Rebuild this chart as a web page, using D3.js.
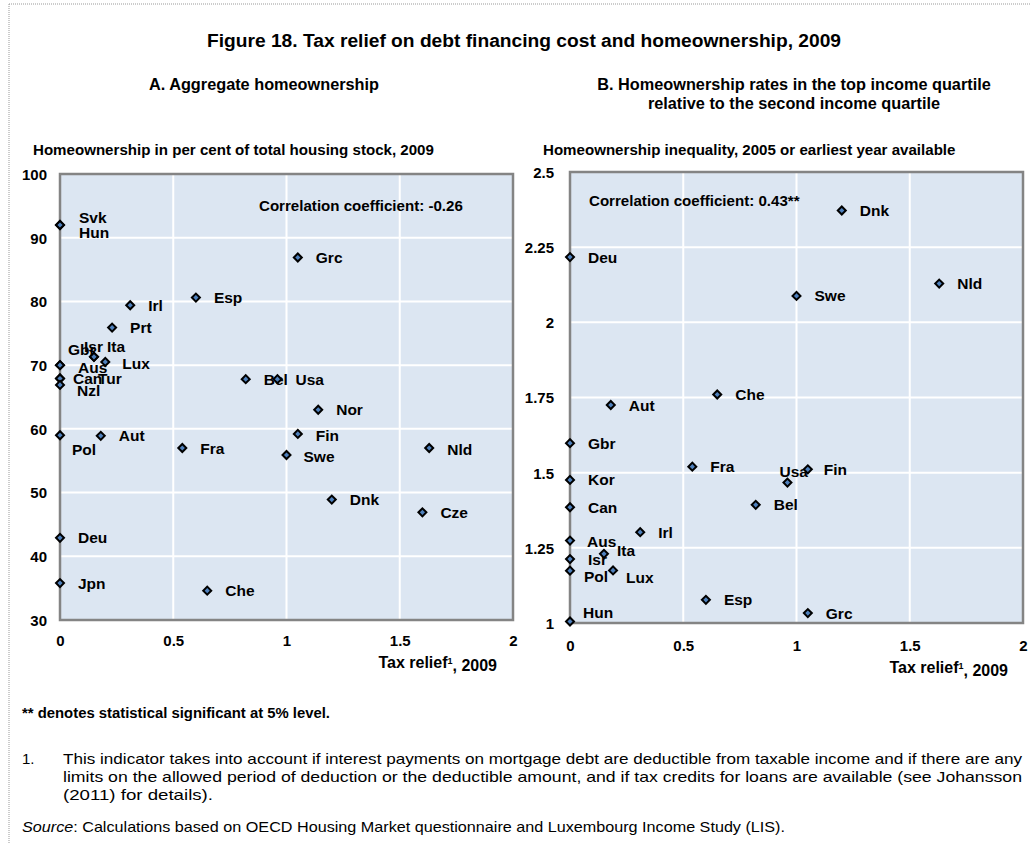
<!DOCTYPE html>
<html>
<head>
<meta charset="utf-8">
<script src="https://cdn.jsdelivr.net/npm/d3@7"></script>
<style>
  html, body { margin: 0; padding: 0; background: #fff; }
  svg { display: block; }
  text { font-family: "Liberation Sans", Arial, sans-serif; fill: #000; }
</style>
</head>
<body>
<svg id="chart" width="1030" height="844"></svg>
<script>
// Panel A: tax relief (x) vs homeownership share, 2009 (y)
const countriesA = ["Svk","Hun","Irl","Esp","Prt","Gbr","Isr","Ita","Lux","Aus","Can","Tur","Nzl",
  "Bel","Usa","Grc","Nor","Fin","Swe","Nld","Pol","Aut","Fra","Dnk","Cze","Deu","Jpn","Che"];
const taxReliefA = [0,0,0.31,0.60,0.23,0,0.15,0.15,0.20,0,0,0,0,
  0.82,0.96,1.05,1.14,1.05,1.00,1.63,0,0.18,0.54,1.20,1.60,0,0,0.65];
const ownershipA = [92.0,92.0,79.4,80.6,75.9,70.0,71.3,71.3,70.5,70.0,67.9,67.9,66.9,
  67.8,67.8,86.9,63.0,59.2,55.9,57.0,59.0,58.9,57.0,48.9,46.9,42.9,35.8,34.6];

// Panel B: tax relief (x) vs homeownership inequality (y)
const countriesB = ["Dnk","Deu","Nld","Swe","Che","Aut","Gbr","Fra","Fin","Usa","Kor","Bel","Can",
  "Irl","Aus","Ita","Isr","Pol","Lux","Esp","Grc","Hun"];
const taxReliefB = [1.20,0,1.63,1.00,0.65,0.18,0,0.54,1.05,0.96,0,0.82,0,
  0.31,0,0.15,0,0,0.19,0.60,1.05,0];
const inequalityB = [2.372,2.217,2.129,2.088,1.760,1.725,1.598,1.520,1.511,1.467,1.476,1.393,1.385,
  1.302,1.274,1.230,1.2125,1.174,1.175,1.077,1.033,1.005];

// Axis ticks
const xTicks = [0, 0.5, 1, 1.5, 2];
const yTicksA = [30, 40, 50, 60, 70, 80, 90, 100];
const yTicksB = [1, 1.25, 1.5, 1.75, 2, 2.25, 2.5];

// Label placement relative to each marker (dx to text start, dy to text centre)
const labelOffsetA = {Svk:[19,-8], Hun:[19,7], Gbr:[8,-16], Isr:[-10,-10], Ita:[13,-10], Lux:[17,1],
  Aus:[18,2], Can:[13,0], Tur:[38,0], Nzl:[17,6], Pol:[12,14], Fin:[18,1], Swe:[17,1], Nld:[18,1]};
const labelOffsetB = {Usa:[-8,-11], Fin:[16,0], Aus:[17,1], Ita:[13,-3], Pol:[14,6], Lux:[13,7], Hun:[13,-9]};

const svg = d3.select("#chart");

// dotted frame around the figure
svg.append("line").attr("x1", 9).attr("x2", 1030).attr("y1", 4).attr("y2", 4)
  .attr("stroke", "#999").attr("stroke-width", 1).attr("stroke-dasharray", "1,1");
svg.append("line").attr("x1", 9).attr("x2", 9).attr("y1", 4).attr("y2", 844)
  .attr("stroke", "#999").attr("stroke-width", 1).attr("stroke-dasharray", "1,1");

// figure title
svg.append("text").attr("x", 524).attr("y", 47).attr("text-anchor", "middle")
  .style("font-size", "19.2px").style("font-weight", "bold")
  .text("Figure 18. Tax relief on debt financing cost and homeownership, 2009");

const diamond = d3.symbol().type(d3.symbolSquare).size(32);

function panel(cfg) {
  const x = d3.scaleLinear().domain([0, 2]).range([cfg.left, cfg.right]);
  const y = d3.scaleLinear().domain(cfg.yDomain).range([cfg.bottom, cfg.top]);
  const g = svg.append("g");

  g.append("rect").attr("x", cfg.left).attr("y", cfg.top)
    .attr("width", cfg.right - cfg.left).attr("height", cfg.bottom - cfg.top)
    .attr("fill", "#dce6f2");

  // gridlines
  g.selectAll("line.hg").data(cfg.yTicks).join("line").attr("class", "hg")
    .attr("x1", cfg.left).attr("x2", cfg.right)
    .attr("y1", d => y(d)).attr("y2", d => y(d))
    .attr("stroke", "#fff").attr("stroke-width", 2);
  g.selectAll("line.vg").data(xTicks).join("line").attr("class", "vg")
    .attr("x1", d => x(d)).attr("x2", d => x(d))
    .attr("y1", cfg.top).attr("y2", cfg.bottom)
    .attr("stroke", "#fff").attr("stroke-width", 2);

  g.append("rect").attr("x", cfg.left).attr("y", cfg.top)
    .attr("width", cfg.right - cfg.left).attr("height", cfg.bottom - cfg.top)
    .attr("fill", "none").attr("stroke", "#848484").attr("stroke-width", 2.5);

  // axes (tick text only; the frame draws the lines)
  const yAxis = d3.axisLeft(y).tickValues(cfg.yTicks).tickSize(0).tickPadding(0)
    .tickFormat(d => String(d));
  const ya = g.append("g").attr("transform", `translate(${cfg.yLabelX},0)`).call(yAxis);
  ya.select(".domain").remove();
  ya.selectAll("text").style("font-size", "15px").style("font-weight", "bold")
    .style("font-family", "'Liberation Sans', Arial, sans-serif").attr("dy", "0.36em").attr("x", 0);

  const xAxis = d3.axisBottom(x).tickValues(xTicks).tickSize(0).tickPadding(0)
    .tickFormat(d => String(d));
  const xa = g.append("g").attr("transform", `translate(0,${cfg.xLabelY})`).call(xAxis);
  xa.select(".domain").remove();
  xa.selectAll("text").style("font-size", "15px").style("font-weight", "bold")
    .style("font-family", "'Liberation Sans', Arial, sans-serif").attr("dy", "0.36em").attr("y", 0);

  // country labels
  const pts = cfg.names.map((n, i) => ({name: n, vx: cfg.xs[i], vy: cfg.ys[i]}));
  g.selectAll("text.lab").data(pts).join("text").attr("class", "lab")
    .attr("x", d => x(d.vx) + (cfg.offsets[d.name] || [18, 0])[0])
    .attr("y", d => y(d.vy) + (cfg.offsets[d.name] || [18, 0])[1])
    .attr("dy", "0.36em")
    .style("font-size", "15.5px").style("font-weight", "bold")
    .text(d => d.name);

  // markers
  g.selectAll("path.pt").data(pts).join("path").attr("class", "pt")
    .attr("d", diamond)
    .attr("transform", d => `translate(${x(d.vx)},${y(d.vy)}) rotate(45)`)
    .attr("fill", "#4f81bd").attr("stroke", "#000").attr("stroke-width", 2);

  // correlation note
  g.append("text").attr("x", cfg.corrX).attr("y", cfg.corrY).attr("dy", "0.36em")
    .style("font-size", "15.1px").style("font-weight", "bold").text(cfg.corr);

  // panel titles
  cfg.title.forEach((t, i) => {
    g.append("text").attr("x", cfg.titleX).attr("y", 90 + i * 19).attr("text-anchor", "middle")
      .style("font-size", "16.3px").style("font-weight", "bold").text(t);
  });
  g.append("text").attr("x", cfg.subX).attr("y", 155)
    .style("font-size", "15.1px").style("font-weight", "bold").text(cfg.sub);

  // x axis title with footnote marker
  const xt = g.append("text").attr("x", cfg.xTitleX).attr("y", cfg.xTitleY).attr("dy", "0.36em")
    .attr("text-anchor", "end").style("font-size", "16px").style("font-weight", "bold");
  xt.append("tspan").text("Tax relief");
  xt.append("tspan").attr("dy", "-0.45em").style("font-size", "9px").text("1");
  xt.append("tspan").attr("dy", "0.45em").text(cfg.xTitleTail);
}

panel({
  left: 60, right: 513, top: 174, bottom: 620, yDomain: [30, 100], yTicks: yTicksA,
  yLabelX: 47, xLabelY: 641,
  names: countriesA, xs: taxReliefA, ys: ownershipA, offsets: labelOffsetA,
  corr: "Correlation coefficient: -0.26", corrX: 259, corrY: 206,
  title: ["A. Aggregate homeownership"], titleX: 264,
  sub: "Homeownership in per cent of total housing stock, 2009", subX: 33,
  xTitleX: 497, xTitleY: 662, xTitleTail: ",  2009"
});

panel({
  left: 570, right: 1023, top: 172, bottom: 623, yDomain: [1, 2.5], yTicks: yTicksB,
  yLabelX: 554, xLabelY: 646,
  names: countriesB, xs: taxReliefB, ys: inequalityB, offsets: labelOffsetB,
  corr: "Correlation coefficient: 0.43**", corrX: 589, corrY: 201,
  title: ["B. Homeownership rates in the top income quartile", "relative to the second income quartile"], titleX: 794,
  sub: "Homeownership inequality, 2005 or earliest year available", subX: 543,
  xTitleX: 1008, xTitleY: 667, xTitleTail: ", 2009"
});

// notes below the figure
svg.append("text").attr("x", 22).attr("y", 718)
  .style("font-size", "14px").style("font-weight", "bold")
  .attr("textLength", 308).attr("lengthAdjust", "spacingAndGlyphs")
  .text("** denotes statistical significant at 5% level.");

const note = [
  {t: "This indicator takes into account if interest payments on mortgage debt are deductible from taxable income and if there are any", w: 959},
  {t: "limits on the allowed period of deduction or the deductible amount, and if tax credits for loans are available (see Johansson", w: 959},
  {t: "(2011) for details).", w: 150}
];
svg.append("text").attr("x", 22).attr("y", 764).style("font-size", "15px").text("1.");
svg.selectAll("text.note").data(note).join("text").attr("class", "note")
  .attr("x", 63).attr("y", (d, i) => 764 + i * 18)
  .style("font-size", "15px")
  .attr("textLength", d => d.w).attr("lengthAdjust", "spacingAndGlyphs")
  .text(d => d.t);

const src = svg.append("text").attr("x", 22).attr("y", 832).style("font-size", "15px")
  .attr("textLength", 763).attr("lengthAdjust", "spacingAndGlyphs");
src.append("tspan").style("font-style", "italic").text("Source");
src.append("tspan").text(": Calculations based on OECD Housing Market questionnaire and Luxembourg Income Study (LIS).");
</script>
</body>
</html>
